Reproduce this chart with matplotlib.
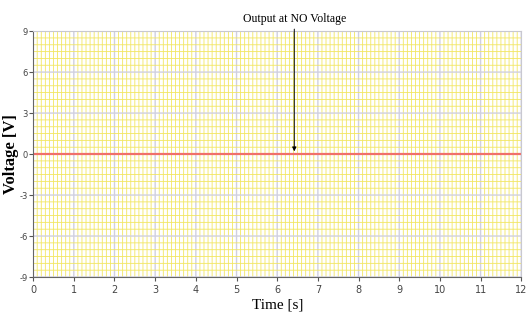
import matplotlib
matplotlib.use("Agg")
import matplotlib.pyplot as plt
import numpy as np
from matplotlib.ticker import MultipleLocator

plt.rcParams["axes.unicode_minus"] = False

# signal: output stays at zero volts over the whole run
time_s = [0, 12]
voltage = [0, 0]
x_ticks = list(range(0, 13))
y_ticks = [-9, -6, -3, 0, 3, 6, 9]
arrow_at = (6.42, 0.2)

fig = plt.figure(figsize=(5.26, 3.24), dpi=100)
ax = fig.add_axes([0.063, 0.145, 0.928, 0.759])

ax.set_xlim(0, 12)
ax.set_ylim(-9, 9)
ax.set_xticks(x_ticks)
ax.set_yticks(y_ticks)
ax.xaxis.set_minor_locator(MultipleLocator(0.1))
ax.yaxis.set_minor_locator(MultipleLocator(0.5))

ax.grid(which="minor", color="#f2e660", linewidth=0.6, snap=False)
ax.grid(which="major", color="#d0d0e0", linewidth=1.0, snap=False)
ax.set_axisbelow(True)

ax.plot(time_s, voltage, color="#f0706a", linewidth=1.6)

ax.tick_params(which="minor", length=0)
ax.tick_params(which="major", length=3, width=0.8, color="#555555",
               labelsize=7, labelcolor="#444444", pad=3)
ax.tick_params(axis="y", labelsize=6, pad=1)

for s in ["top", "right"]:
    ax.spines[s].set_color("#c8c8d0")
for s in ["left", "bottom"]:
    ax.spines[s].set_color("#666666")

ax.set_xlabel("Time [s]", family="Liberation Serif", fontsize=11, labelpad=2)
ax.set_ylabel("Voltage [V]", family="Liberation Serif", fontsize=12,
              fontweight="bold", labelpad=0)

ax.annotate("Output at NO Voltage", xy=arrow_at, xytext=(6.42, 9.45),
            xycoords="data", textcoords="data", ha="center", va="bottom",
            family="Liberation Serif", fontsize=8.5, annotation_clip=False,
            arrowprops=dict(arrowstyle="-|>", color="black", lw=0.7,
                            mutation_scale=6, shrinkA=1, shrinkB=0))

fig.savefig("out.png", dpi=100)
